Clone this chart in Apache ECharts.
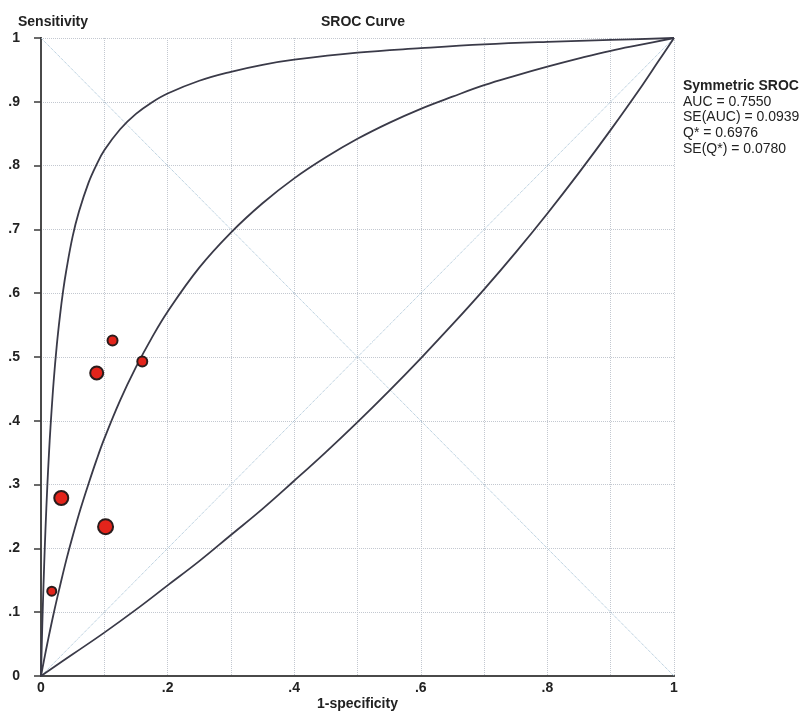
<!DOCTYPE html>
<html>
<head>
<meta charset="utf-8">
<script src="https://cdn.jsdelivr.net/npm/echarts@6/dist/echarts.min.js"></script>
<style>html,body{margin:0;padding:0;background:#fff;}#c{width:803px;height:713px;}</style>
</head>
<body>
<div id="c"></div>
<script>
// Study points: [1-specificity, sensitivity, marker size]
const studyPoints = [
  [0.113, 0.526, 10],
  [0.088, 0.475, 13],
  [0.160, 0.493, 10],
  [0.032, 0.279, 14],
  [0.102, 0.234, 15],
  [0.017, 0.133, 9]
];
// Symmetric SROC curve
const srocCurve = [
  [0,0],[0.0025,0.013],[0.005,0.026],[0.01,0.051],[0.02,0.098],[0.03,0.141],[0.04,0.182],
  [0.05,0.219],[0.0625,0.262],[0.075,0.301],[0.0875,0.338],[0.1,0.372],[0.125,0.432],
  [0.15,0.484],[0.175,0.530],[0.2,0.571],[0.25,0.640],[0.3,0.695],[0.35,0.741],[0.4,0.780],
  [0.45,0.813],[0.5,0.842],[0.55,0.867],[0.6,0.889],[0.65,0.908],[0.7,0.926],[0.75,0.941],
  [0.8,0.955],[0.85,0.968],[0.9,0.980],[0.95,0.990],[1,1]
];
// Upper bound curve
const upperCurve = [
  [0,0],[0.001,0.040],[0.002,0.078],[0.003,0.112],[0.005,0.174],[0.007,0.228],[0.01,0.298],
  [0.0125,0.347],[0.015,0.390],[0.02,0.462],[0.025,0.519],[0.03,0.565],[0.035,0.604],
  [0.04,0.636],[0.05,0.689],[0.06,0.728],[0.075,0.773],[0.0875,0.801],[0.1,0.824],
  [0.125,0.857],[0.15,0.881],[0.175,0.899],[0.2,0.913],[0.25,0.933],[0.3,0.947],[0.35,0.958],
  [0.4,0.966],[0.5,0.977],[0.6,0.984],[0.7,0.990],[0.8,0.994],[0.9,0.997],[1,1]
];
// Lower bound curve
const lowerCurve = [
  [0,0],[0.05,0.034],[0.1,0.068],[0.15,0.104],[0.2,0.142],[0.25,0.180],[0.3,0.221],
  [0.35,0.262],[0.4,0.306],[0.45,0.351],[0.5,0.398],[0.55,0.447],[0.6,0.498],[0.65,0.551],
  [0.7,0.606],[0.75,0.664],[0.8,0.725],[0.85,0.789],[0.9,0.856],[0.95,0.926],[0.975,0.963],[1,1]
];
const diag1 = [[0,0],[1,1]];
const diag2 = [[0,1],[1,0]];
const statsLines = ['AUC = 0.7550','SE(AUC) = 0.0939','Q* = 0.6976','SE(Q*) = 0.0780'];

function fmt(v){
  const r = Math.round(v*10)/10;
  if (r === 0) return '0';
  if (r === 1) return '1';
  return '.' + Math.round(r*10);
}

const chart = echarts.init(document.getElementById('c'), null, {renderer:'canvas'});
const curveStyle = {color:'#3a3a48', width:1.8};
const diagStyle = {color:'#9fbdd2', width:1, type:'dotted'};
const FONT = 'Liberation Sans, Arial, sans-serif';

chart.setOption({
  backgroundColor:'#ffffff',
  animation:false,
  title:[
    {text:'SROC Curve', left:358, top:10, textAlign:'center',
     textStyle:{fontFamily:FONT, fontSize:14, fontWeight:'bold', color:'#222'}},
    {text:'Sensitivity', left:13, top:10,
     textStyle:{fontFamily:FONT, fontSize:14, fontWeight:'bold', color:'#222'}}
  ],
  grid:{left:41, right:129, top:38, bottom:37, containLabel:false, outerBoundsMode:'none'},
  xAxis:[{
    type:'value', min:0, max:1, interval:0.1, position:'bottom',
    name:'1-specificity', nameLocation:'middle', nameGap:21, nameMoveOverlap:false,
    nameTextStyle:{fontFamily:FONT, fontSize:14, fontWeight:'bold', color:'#222'},
    axisLine:{show:true, lineStyle:{color:'#3a3a3a', width:2}},
    axisTick:{show:false},
    axisLabel:{margin:5, fontFamily:FONT, fontSize:14, fontWeight:'bold', color:'#222',
      formatter:function(v){const r=Math.round(v*10); return (r%2===0)?fmt(v):'';}},
    splitLine:{show:true, lineStyle:{color:'#c3c8d0', width:1, type:'dotted'}}
  },{
    type:'value', min:0, max:1, position:'top',
    axisLine:{show:true, lineStyle:{color:'#4a4a4a', width:2}},
    axisTick:{show:false}, axisLabel:{show:false}, splitLine:{show:false}
  }],
  yAxis:[{
    type:'value', min:0, max:1, interval:0.1, position:'left',
    axisLine:{show:true, lineStyle:{color:'#3a3a3a', width:2}},
    axisTick:{show:true, inside:false, length:7, lineStyle:{color:'#3a3a3a', width:1.5}},
    axisLabel:{margin:21, fontFamily:FONT, fontSize:14, fontWeight:'bold', color:'#222', formatter:fmt},
    splitLine:{show:true, lineStyle:{color:'#c3c8d0', width:1, type:'dotted'}}
  },{
    type:'value', min:0, max:1, position:'right',
    axisLine:{show:true, lineStyle:{color:'#4a4a4a', width:2}},
    axisTick:{show:false}, axisLabel:{show:false}, splitLine:{show:false}
  }],
  graphic:[{
    type:'text', left:683, top:78,
    style:{
      text:'{b|Symmetric SROC}\n' + statsLines.join('\n'),
      font:'14px ' + FONT, fill:'#222', lineHeight:15.8,
      rich:{b:{fontWeight:'bold', fontSize:14, fontFamily:FONT, fill:'#222', lineHeight:15.8}}
    }
  }],
  series:[
    {type:'line', data:diag1, showSymbol:false, lineStyle:diagStyle, z:1, silent:true},
    {type:'line', data:diag2, showSymbol:false, lineStyle:diagStyle, z:1, silent:true},
    {type:'line', data:upperCurve, smooth:0.4, showSymbol:false, lineStyle:curveStyle, z:2},
    {type:'line', data:srocCurve, smooth:0.4, showSymbol:false, lineStyle:curveStyle, z:2},
    {type:'line', data:lowerCurve, smooth:0.4, showSymbol:false, lineStyle:curveStyle, z:2},
    {type:'scatter', data:studyPoints, z:5,
     symbolSize:function(d){return d[2];},
     itemStyle:{color:'#e3241b', borderColor:'#2a1c1c', borderWidth:2, opacity:1}}
  ]
});
</script>
</body>
</html>
